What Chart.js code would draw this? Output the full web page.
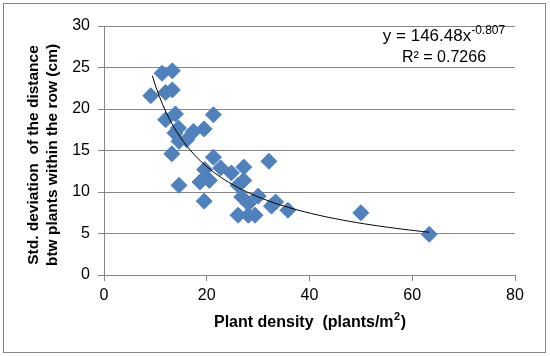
<!DOCTYPE html>
<html><head><meta charset="utf-8">
<script src="https://cdn.jsdelivr.net/npm/chart.js@4.4.0/dist/chart.umd.min.js"></script>
<style>html,body{margin:0;padding:0;background:#fff;}</style>
</head><body>
<canvas id="c" width="550" height="356"></canvas>
<script>
// ---- data ----
const densityX = [9.1, 11.3, 13.3, 12.0, 13.3, 12.0, 13.9, 21.3, 14.5, 13.8, 17.4, 19.5, 14.6, 16.1, 13.2, 21.3, 32.1, 19.6, 22.7, 24.8, 27.2, 14.6, 18.7, 20.5, 27.2, 26.1, 26.8, 30.0, 19.5, 28.1, 32.6, 33.4, 35.8, 26.1, 28.1, 29.4, 50.0, 63.3];
const stdDevY  = [21.6, 24.3, 24.6, 22.0, 22.3, 18.7, 19.4, 19.3, 17.7, 17.1, 17.3, 17.6, 16.1, 16.3, 14.6, 14.2, 13.7, 12.7, 12.9, 12.3, 13.0, 10.8, 11.2, 11.4, 11.4, 10.8, 9.4, 9.5, 8.9, 8.6, 8.3, 8.8, 7.8, 7.2, 7.2, 7.2, 7.5, 4.9];
const xTickValues = [0, 20, 40, 60, 80];
const yTickValues = [0, 5, 10, 15, 20, 25, 30];
const trendCoefA = 146.48;
const trendExpB = -0.807;
const trendXRange = [9.4, 63.3];
const equationMain = 'y = 146.48x';
const equationExp = '-0.807';
const rSquaredText = 'R² = 0.7266';
const xTitleMain = 'Plant density  (plants/m';
const xTitleSup = '2';
const xTitleEnd = ')';
const yTitleLines = ['Std. deviation  of the distance', 'btw plants within the row (cm)'];

// fitted power trendline from the displayed equation
const trendPoints = [];
const nSteps = 80;
for (let i = 0; i <= nSteps; i++) {
  const x = trendXRange[0] + (trendXRange[1] - trendXRange[0]) * i / nSteps;
  trendPoints.push({x: x, y: trendCoefA * Math.pow(x, trendExpB)});
}
const scatterPoints = densityX.map((x, i) => ({x: x, y: stdDevY[i]}));

const FONT = "'Liberation Sans', Arial, sans-serif";
const GRID = '#868686';

const decor = {
  id: 'decor',
  afterDraw(chart) {
    const ctx = chart.ctx;
    const a = chart.chartArea;
    ctx.save();
    // outer frame
    ctx.strokeStyle = GRID;
    ctx.lineWidth = 1;
    ctx.strokeRect(3.5, 3.5, 542, 349);
    ctx.fillStyle = '#000';
    // equation (centred block)
    ctx.textBaseline = 'alphabetic';
    ctx.font = '17px ' + FONT;
    const wMain = ctx.measureText(equationMain).width;
    ctx.font = '12px ' + FONT;
    const wExp = ctx.measureText(equationExp).width;
    const centre = 444;
    const eqX = centre - (wMain + wExp) / 2;
    ctx.font = '17px ' + FONT;
    ctx.textAlign = 'left';
    ctx.fillText(equationMain, eqX, 41);
    ctx.font = '12px ' + FONT;
    ctx.fillText(equationExp, eqX + wMain, 34);
    ctx.font = '16px ' + FONT;
    ctx.textAlign = 'center';
    ctx.fillText(rSquaredText, centre, 62);
    // x title
    ctx.font = 'bold 16px ' + FONT;
    const w1 = ctx.measureText(xTitleMain).width;
    const w3 = ctx.measureText(xTitleEnd).width;
    ctx.font = 'bold 11px ' + FONT;
    const w2 = ctx.measureText(xTitleSup).width;
    const total = w1 + w2 + w3;
    let sx = (a.left + a.right) / 2 - total / 2;
    ctx.textAlign = 'left';
    ctx.font = 'bold 16px ' + FONT;
    ctx.fillText(xTitleMain, sx, 327);
    ctx.font = 'bold 11px ' + FONT;
    ctx.fillText(xTitleSup, sx + w1 + 0.5, 320);
    ctx.font = 'bold 16px ' + FONT;
    ctx.fillText(xTitleEnd, sx + w1 + w2 + 1, 327);
    // y title
    ctx.translate(0, 155);
    ctx.rotate(-Math.PI / 2);
    ctx.font = 'bold 15.5px ' + FONT;
    ctx.textAlign = 'center';
    ctx.fillText(yTitleLines[0], 0, 37.5);
    ctx.fillText(yTitleLines[1], 0, 56.5);
    ctx.restore();
  }
};

new Chart(document.getElementById('c'), {
  type: 'scatter',
  data: {
    datasets: [
      {
        data: trendPoints,
        showLine: true,
        borderColor: '#000',
        borderWidth: 1,
        pointRadius: 0,
        fill: false,
        tension: 0
      },
      {
        data: scatterPoints,
        pointStyle: 'rectRot',
        pointRadius: 8,
        pointBackgroundColor: '#4F81BD',
        pointBorderColor: '#4F81BD',
        pointBorderWidth: 1
      }
    ]
  },
  options: {
    responsive: false,
    devicePixelRatio: 1,
    animation: false,
    layout: {padding: {top: 26, right: 35, left: 0, bottom: 0}},
    plugins: {legend: {display: false}, tooltip: {enabled: false}},
    scales: {
      x: {
        type: 'linear', min: 0, max: 80,
        afterBuildTicks: s => { s.ticks = xTickValues.map(v => ({value: v})); },
        afterFit: s => { s.height = 81; },
        ticks: {font: {size: 16, family: FONT}, color: '#000', padding: 5, maxRotation: 0},
        grid: {drawOnChartArea: false, drawTicks: true, tickLength: 6, color: GRID},
        border: {color: GRID, width: 1}
      },
      y: {
        type: 'linear', min: 0, max: 30,
        afterBuildTicks: s => { s.ticks = yTickValues.map(v => ({value: v})); },
        afterFit: s => { s.width = 104; },
        ticks: {font: {size: 16, family: FONT}, color: '#000', padding: 8},
        grid: {drawOnChartArea: true, drawTicks: true, tickLength: 6, color: GRID},
        border: {color: GRID, width: 1}
      }
    }
  },
  plugins: [decor]
});
</script>
</body></html>
